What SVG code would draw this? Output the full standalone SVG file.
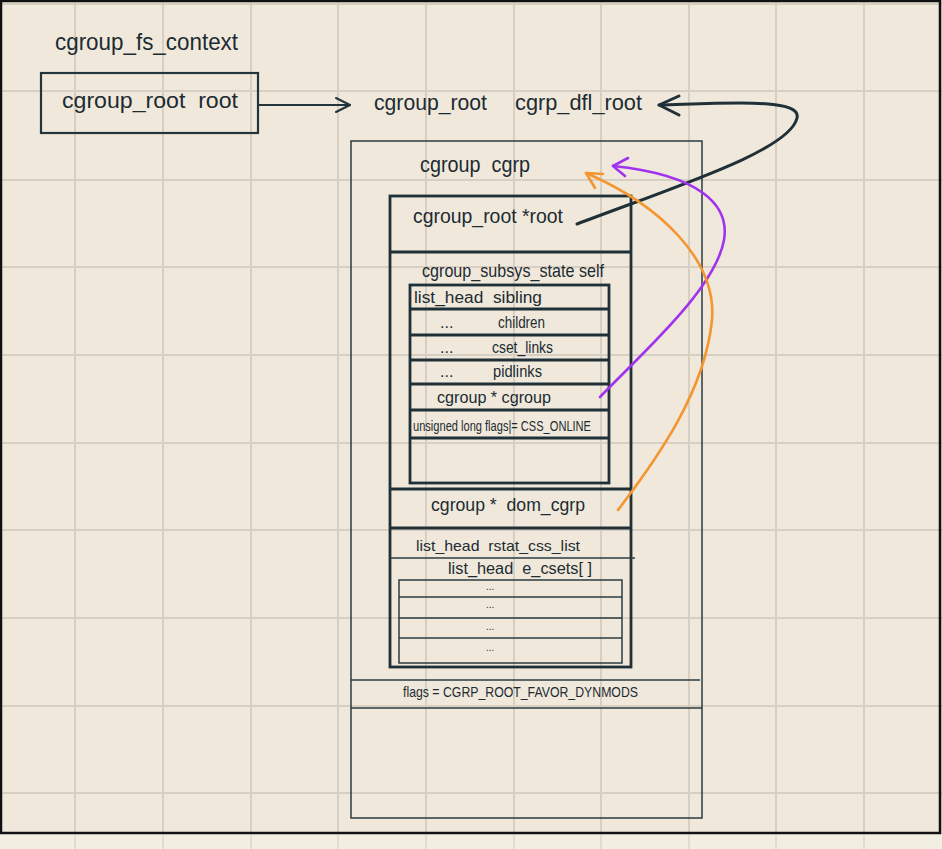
<svg xmlns="http://www.w3.org/2000/svg" width="942" height="849" viewBox="0 0 942 849">
<defs>
<style>
.grid line{stroke:#d6cfc2;stroke-width:2}
.grid2 line{stroke:#e2dccf;stroke-width:2}
.box{fill:none;stroke:#22343c;stroke-width:2.2}
.thin{fill:none;stroke:#2a3b43;stroke-width:1.5}
.thick{fill:none;stroke:#1f3038;stroke-width:2.8}
.t{font-family:"Liberation Sans","DejaVu Sans",sans-serif;fill:#1d2b33;white-space:pre}
.con{fill:none;stroke-linecap:round;stroke-linejoin:round}
</style>
</defs>
<rect x="0" y="0" width="942" height="849" fill="#f3eee2"/>
<rect x="0" y="0" width="942" height="834" fill="#f0e9db"/>
<g class="grid">
<line x1="75" y1="0" x2="75" y2="834"/><line x1="163" y1="0" x2="163" y2="834"/><line x1="251" y1="0" x2="251" y2="834"/><line x1="338" y1="0" x2="338" y2="834"/><line x1="426" y1="0" x2="426" y2="834"/><line x1="514" y1="0" x2="514" y2="834"/><line x1="601" y1="0" x2="601" y2="834"/><line x1="689" y1="0" x2="689" y2="834"/><line x1="776" y1="0" x2="776" y2="834"/><line x1="864" y1="0" x2="864" y2="834"/>
<line x1="0" y1="4" x2="942" y2="4"/><line x1="0" y1="91" x2="942" y2="91"/><line x1="0" y1="180" x2="942" y2="180"/><line x1="0" y1="267" x2="942" y2="267"/><line x1="0" y1="355" x2="942" y2="355"/><line x1="0" y1="443" x2="942" y2="443"/><line x1="0" y1="530" x2="942" y2="530"/><line x1="0" y1="618" x2="942" y2="618"/><line x1="0" y1="706" x2="942" y2="706"/><line x1="0" y1="793" x2="942" y2="793"/>
</g>
<g class="grid2">
<line x1="75" y1="835" x2="75" y2="849"/><line x1="163" y1="835" x2="163" y2="849"/><line x1="251" y1="835" x2="251" y2="849"/><line x1="338" y1="835" x2="338" y2="849"/><line x1="426" y1="835" x2="426" y2="849"/><line x1="514" y1="835" x2="514" y2="849"/><line x1="601" y1="835" x2="601" y2="849"/><line x1="689" y1="835" x2="689" y2="849"/><line x1="776" y1="835" x2="776" y2="849"/><line x1="864" y1="835" x2="864" y2="849"/>
</g>
<rect x="1" y="1" width="939" height="832" fill="none" stroke="#111" stroke-width="2.5"/>

<g id="fs_context">
<text class="t" x="55" y="50" font-size="24" textLength="183" lengthAdjust="spacingAndGlyphs">cgroup_fs_context</text>
<rect class="box" x="41" y="73" width="217" height="60"/>
<text class="t" x="62" y="108" font-size="22" textLength="176" lengthAdjust="spacingAndGlyphs">cgroup_root  root</text>
</g>

<g id="dfl_root_label">
<text class="t" x="374" y="110" font-size="22" textLength="113" lengthAdjust="spacingAndGlyphs">cgroup_root</text>
<text class="t" x="515" y="110" font-size="22" textLength="127" lengthAdjust="spacingAndGlyphs">cgrp_dfl_root</text>
</g>

<g id="cgrp_dfl_root">
<rect class="thin" x="351" y="141" width="351" height="677"/>
<text class="t" x="420" y="172" font-size="22" textLength="110" lengthAdjust="spacingAndGlyphs">cgroup  cgrp</text>
<line class="thin" x1="351" y1="680" x2="700" y2="680"/>
<line class="thin" x1="351" y1="708" x2="702" y2="708"/>
<text class="t" x="403" y="697" font-size="14" textLength="235" lengthAdjust="spacingAndGlyphs">flags = CGRP_ROOT_FAVOR_DYNMODS</text>
</g>

<g id="cgroup_cgrp">
<rect class="thick" x="390" y="196" width="241" height="471"/>
<text class="t" x="413" y="223" font-size="21" textLength="150" lengthAdjust="spacingAndGlyphs">cgroup_root *root</text>
<line class="thick" x1="390" y1="252" x2="631" y2="252"/>
<text class="t" x="422" y="277" font-size="19" textLength="182" lengthAdjust="spacingAndGlyphs">cgroup_subsys_state self</text>
<line class="thick" x1="390" y1="489" x2="631" y2="489"/>
<text class="t" x="431" y="511" font-size="18" textLength="154" lengthAdjust="spacingAndGlyphs">cgroup *  dom_cgrp</text>
<line class="thick" x1="390" y1="528" x2="631" y2="528"/>
<text class="t" x="416" y="551" font-size="15" textLength="164" lengthAdjust="spacingAndGlyphs">list_head  rstat_css_list</text>
<line class="thin" x1="390" y1="558" x2="635" y2="558"/>
<text class="t" x="448" y="574" font-size="16" textLength="144" lengthAdjust="spacingAndGlyphs">list_head  e_csets[ ]</text>
</g>

<g id="css_self">
<rect class="thick" x="410" y="285" width="199" height="198"/>
<line class="thick" x1="410" y1="309" x2="609" y2="309"/>
<line class="thick" x1="410" y1="335" x2="609" y2="335"/>
<line class="thick" x1="410" y1="360" x2="609" y2="360"/>
<line class="thick" x1="410" y1="384" x2="609" y2="384"/>
<line class="thick" x1="410" y1="410" x2="609" y2="410"/>
<line class="thick" x1="410" y1="438" x2="609" y2="438"/>
<text class="t" x="414" y="303" font-size="16" textLength="128" lengthAdjust="spacingAndGlyphs">list_head  sibling</text>
<text class="t" x="440" y="328" font-size="16">...</text>
<text class="t" x="498" y="328" font-size="16" textLength="47" lengthAdjust="spacingAndGlyphs">children</text>
<text class="t" x="440" y="353" font-size="16">...</text>
<text class="t" x="492" y="353" font-size="16" textLength="61" lengthAdjust="spacingAndGlyphs">cset_links</text>
<text class="t" x="440" y="377" font-size="16">...</text>
<text class="t" x="493" y="377" font-size="16" textLength="49" lengthAdjust="spacingAndGlyphs">pidlinks</text>
<text class="t" x="437" y="403" font-size="17" textLength="114" lengthAdjust="spacingAndGlyphs">cgroup * cgroup</text>
<text class="t" x="413" y="431" font-size="15" textLength="178" lengthAdjust="spacingAndGlyphs">unsigned long flags|= CSS_ONLINE</text>
</g>

<g id="e_csets">
<rect class="thin" x="399" y="580" width="223" height="83"/>
<line class="thin" x1="399" y1="597" x2="622" y2="597"/>
<line class="thin" x1="399" y1="618" x2="622" y2="618"/>
<line class="thin" x1="399" y1="638" x2="622" y2="638"/>
<text class="t" x="486" y="590" font-size="10">...</text>
<text class="t" x="486" y="608" font-size="10">...</text>
<text class="t" x="486" y="630" font-size="10">...</text>
<text class="t" x="486" y="651" font-size="10">...</text>
</g>

<g id="connectors">
<g class="con" stroke="#22343c" stroke-width="2">
<line x1="259" y1="105" x2="350" y2="105"/>
<polyline points="336,98 350,105 336,112"/>
</g>
<g class="con" stroke="#1f3038" stroke-width="3">
<path d="M577,224 C680,185 790,150 797,118 C802,98 730,103 659,105"/>
<polyline points="679,96 659,105 679,115"/>
</g>
<g class="con" stroke="#a133ef" stroke-width="2.6">
<path d="M600,397 C640,355 715,290 724,240 C730,205 700,175 613,166"/>
<polyline points="628,158 613,166 625,176"/>
</g>
<g class="con" stroke="#f5952f" stroke-width="2.6">
<path d="M618,510 C660,455 705,390 712,320 C717,260 660,205 586,173"/>
<polyline points="603,174 586,173 595,188"/>
</g>
</g>
</svg>
